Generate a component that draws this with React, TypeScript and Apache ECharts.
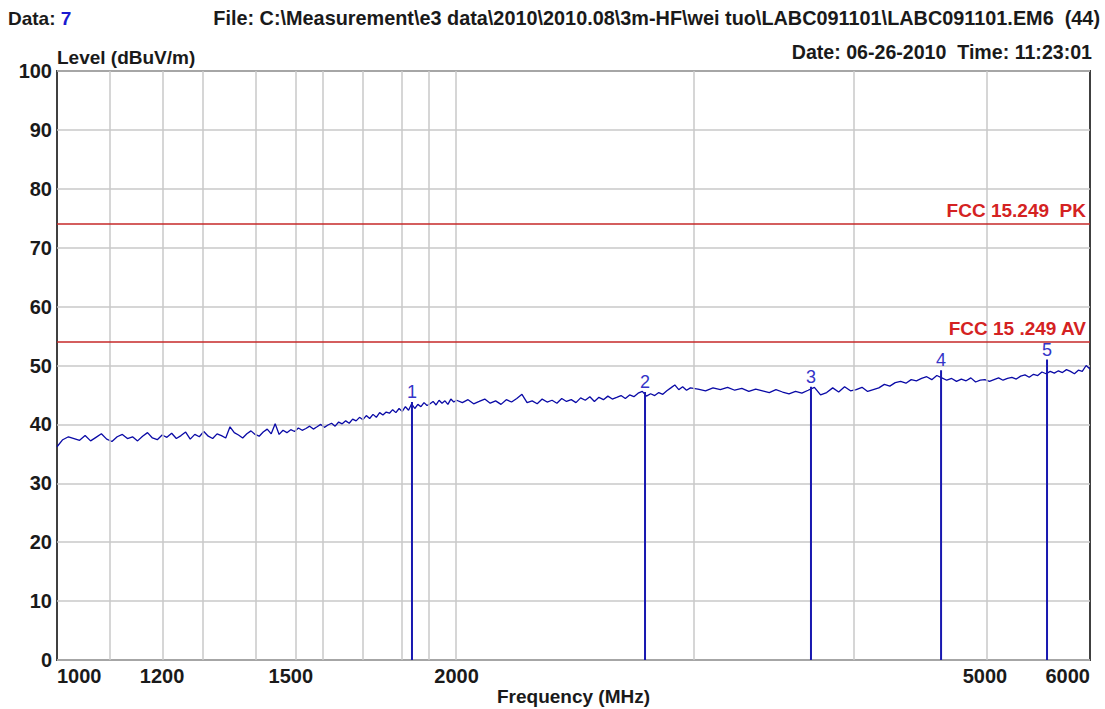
import { useEffect, useRef } from "react";
import * as echarts from "echarts";

const FONT = "'Liberation Sans', Arial, Helvetica, sans-serif";

// Axis ticks and gridlines (frequency in MHz, level in dBuV/m)
const xLabelFreqs = [1000, 1200, 1500, 2000, 5000, 6000];
const xGridFreqs = [1100, 1200, 1300, 1400, 1500, 1600, 1700, 1800, 1900, 2000, 3000, 4000, 5000];
const yMin = 0;
const yMax = 100;
const yStep = 10;

// Sweep bands: start frequency and step of each block of readings
const bandStarts = [1000, 2020, 3040];
const bandSteps = [10, 20, 40];

// Measured level, 1000–2000 MHz, 10 MHz step
const levelsBand1 = [
  36.2, 37.4, 37.9, 37.6, 37.3, 38.1, 37.2, 37.8, 38.4, 37.5,
  37.1, 37.9, 38.3, 37.6, 37.9, 37.2, 38.0, 38.6, 37.7, 37.4,
  38.2, 37.8, 38.5, 37.6, 38.1, 38.7, 37.5, 38.3, 37.9, 38.8,
  38.0, 37.6, 38.4, 38.1, 37.7, 39.6, 38.6, 38.2, 37.7, 38.4,
  38.9, 38.3, 38.0, 38.7, 39.2, 38.4, 40.1, 38.3, 39.0, 38.6,
  39.1, 38.8, 39.4, 39.0, 39.3, 39.7, 39.2, 39.6, 40.0, 39.5,
  39.9, 40.2, 39.7, 40.4, 40.1, 40.6, 40.2, 40.9, 40.6, 41.2,
  40.8, 41.5, 41.0, 41.7, 41.2, 42.0, 41.6, 42.1, 41.9, 42.5,
  42.0, 42.7, 42.2, 43.0, 42.4, 43.5, 42.7, 43.4, 43.0, 43.7,
  43.2, 43.5, 43.9, 43.3, 44.1, 43.6, 44.0, 43.4, 44.3, 43.8,
  44.1,
];

// Measured level, 2020–3000 MHz, 20 MHz step
const levelsBand2 = [
  43.7, 44.2, 43.5, 43.9, 44.3, 43.6, 44.0, 43.4, 44.2, 43.8,
  44.4, 45.1, 43.7, 44.0, 43.5, 44.3, 43.8, 44.1, 43.6, 44.4,
  43.9, 44.2, 43.7, 44.5, 44.1, 44.7, 43.9, 44.6, 44.2, 44.8,
  44.3, 44.6, 44.9, 44.4, 45.0, 44.7, 45.3, 45.6, 44.8, 45.2,
  44.9, 45.4, 45.1, 45.7, 46.2, 46.7, 45.9, 46.4, 45.8, 46.2,
];

// Measured level, 3040–6000 MHz, 40 MHz step
const levelsBand3 = [
  46.0, 45.7, 46.2, 45.9, 46.3, 45.8, 46.1, 45.6, 46.0, 45.7,
  45.4, 45.9, 45.5, 45.2, 45.6, 45.3, 45.8, 46.3, 45.0, 45.4,
  46.2, 45.5, 46.4, 45.7, 45.9, 46.3, 45.6, 45.9, 46.2, 46.8,
  46.5, 47.1, 47.3, 47.0, 47.6, 47.4, 47.8, 48.1, 47.6, 48.3,
  47.9, 47.5, 47.8, 47.3, 47.7, 47.4, 47.9, 47.2, 47.5, 47.6,
  47.3, 47.6, 47.9, 47.5, 47.8, 48.0, 47.7, 48.2, 48.4, 48.0,
  48.5, 48.3, 48.9, 48.6, 49.0, 48.7, 49.1, 48.8, 49.3, 49.0,
  48.6, 49.2, 49.0, 50.0, 49.4,
];

// Peak markers
const markerFreqs = [1851, 2773, 3698, 4634, 5569];
const markerLevels = [43.8, 45.5, 46.4, 49.2, 51.0];

// Limit lines
const limitNames = ["FCC 15.249  PK", "FCC 15 .249 AV"];
const limitLevels = [74, 54];

const lg = (f: number) => Math.log10(f);

export default function App() {
  const ref = useRef<HTMLDivElement>(null);

  useEffect(() => {
    if (!ref.current) return;
    const chart = echarts.init(ref.current, undefined, { renderer: "svg" });

    const bands = [levelsBand1, levelsBand2, levelsBand3];
    const trace: number[][] = [];
    bands.forEach((levels, b) => {
      levels.forEach((v, i) => {
        trace.push([lg(bandStarts[b] + i * bandSteps[b]), v]);
      });
    });

    const labelText = { fontFamily: FONT, fontSize: 20, fontWeight: "bold" as const, color: "#1a1a1a" };

    chart.setOption({
      animation: false,
      backgroundColor: "#ffffff",
      grid: {
        left: 57,
        right: 15,
        top: 71,
        bottom: 49,
        outerBoundsMode: "none",
        containLabel: false,
        show: true,
        borderColor: "#404040",
        borderWidth: 2,
        backgroundColor: "#ffffff",
      },
      xAxis: {
        type: "value",
        min: lg(1000),
        max: lg(6000),
        axisLine: { show: false },
        axisTick: { show: false },
        splitLine: { show: false },
        axisLabel: {
          ...labelText,
          customValues: xLabelFreqs.map(lg),
          formatter: (v: number) => String(Math.round(Math.pow(10, v))),
          margin: 6,
          alignMinLabel: "left",
          alignMaxLabel: "right",
        },
        name: "Frequency (MHz)",
        nameLocation: "middle",
        nameMoveOverlap: false,
        nameGap: 27,
        nameTextStyle: { ...labelText, fontSize: 19, lineHeight: 19 },
      },
      yAxis: {
        type: "value",
        min: yMin,
        max: yMax,
        interval: yStep,
        axisLine: { show: false },
        axisTick: { show: false },
        splitLine: { lineStyle: { color: "#c8c8c8", width: 1.5 } },
        axisLabel: { ...labelText, margin: 5 },
      },
      graphic: [
        {
          type: "text",
          x: 8,
          y: 18,
          style: {
            text: "{b|Data: }{n|7}",
            textVerticalAlign: "middle",
            rich: {
              b: { fontFamily: FONT, fontSize: 19, fontWeight: "bold", fill: "#1a1a1a" },
              n: { fontFamily: FONT, fontSize: 19, fontWeight: "bold", fill: "#1a1ad0" },
            },
          },
        },
        {
          type: "text",
          x: 1100,
          y: 18,
          style: {
            text: "File: C:\\Measurement\\e3 data\\2010\\2010.08\\3m-HF\\wei tuo\\LABC091101\\LABC091101.EM6  (44)",
            textAlign: "right",
            textVerticalAlign: "middle",
            fontFamily: FONT,
            fontSize: 19.85,
            fontWeight: "bold",
            fill: "#1a1a1a",
          },
        },
        {
          type: "text",
          x: 1092,
          y: 52,
          style: {
            text: "Date: 06-26-2010  Time: 11:23:01",
            textAlign: "right",
            textVerticalAlign: "middle",
            fontFamily: FONT,
            fontSize: 19.6,
            fontWeight: "bold",
            fill: "#1a1a1a",
          },
        },
        {
          type: "text",
          x: 57,
          y: 57,
          style: {
            text: "Level (dBuV/m)",
            textVerticalAlign: "middle",
            fontFamily: FONT,
            fontSize: 19,
            fontWeight: "bold",
            fill: "#1a1a1a",
          },
        },
      ],
      series: [
        {
          name: "grid",
          type: "line",
          data: [],
          silent: true,
          z: 1,
          markLine: {
            silent: true,
            symbol: "none",
            label: { show: false },
            lineStyle: { color: "#c8c8c8", width: 1.5, type: "solid" },
            data: xGridFreqs.map((f) => ({ xAxis: lg(f) })),
          },
        },
        {
          name: "limits",
          type: "line",
          data: [],
          silent: true,
          z: 2,
          markLine: {
            silent: true,
            symbol: "none",
            lineStyle: { color: "#c62828", width: 1.5, type: "solid" },
            label: {
              position: "insideEndTop",
              fontFamily: FONT,
              fontSize: 19,
              fontWeight: "bold",
              color: "#d42222",
              distance: 4,
            },
            data: limitLevels.map((v, i) => ({
              yAxis: v,
              label: { formatter: limitNames[i] },
            })),
          },
        },
        {
          name: "trace",
          type: "line",
          data: trace,
          showSymbol: false,
          z: 3,
          lineStyle: { color: "#0a0aa6", width: 1.3 },
        },
        {
          name: "markers",
          type: "bar",
          data: markerFreqs.map((f, i) => [lg(f), markerLevels[i]]),
          barWidth: 2,
          z: 4,
          itemStyle: { color: "#1818b0" },
          label: {
            show: true,
            position: "top",
            distance: 1,
            fontFamily: FONT,
            fontSize: 18,
            color: "#3434c8",
            formatter: (p: any) => String(p.dataIndex + 1),
          },
        },
      ],
    });

    return () => chart.dispose();
  }, []);

  return (
    <div
      ref={ref}
      style={{ position: "absolute", left: 0, top: 0, width: 1105, height: 709 }}
    />
  );
}
